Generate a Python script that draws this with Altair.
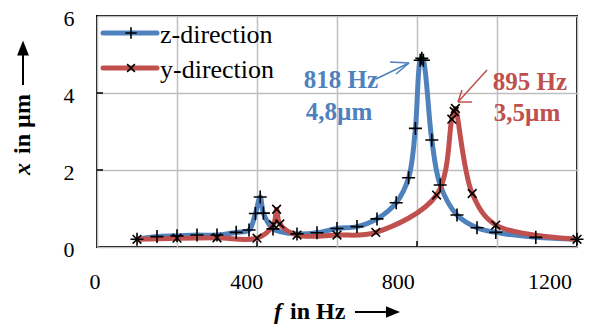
import altair as alt
import pandas as pd

# ---- data ----
z_freq = [100, 150, 200, 250, 300, 348, 380, 396, 408, 416, 440, 500, 550, 600, 650, 700, 748, 779, 796, 808, 812, 816, 837, 858, 900, 950, 997, 1097, 1200]
z_amp  = [0.20, 0.27, 0.29, 0.31, 0.31, 0.38, 0.44, 0.87, 1.30, 0.88, 0.47, 0.34, 0.37, 0.48, 0.53, 0.73, 1.15, 1.80, 3.08, 4.85, 4.90, 4.85, 2.78, 1.61, 0.83, 0.50, 0.38, 0.25, 0.20]

y_freq = [100, 200, 300, 400, 441, 449, 457, 500, 600, 697, 849, 887, 893, 896, 938, 997, 1200]
y_amp  = [0.20, 0.23, 0.24, 0.23, 0.58, 0.98, 0.60, 0.31, 0.31, 0.38, 1.35, 3.32, 3.52, 3.60, 1.39, 0.57, 0.20]

x_ticks = [0, 400, 800, 1200]
y_ticks = [0, 2, 4, 6]
x_grid = [0, 200, 400, 600, 800, 1000, 1200]
y_grid = [0, 1, 2, 3, 4, 5, 6]

BLUE = "#4F81BD"
RED = "#C0504D"
FONT = "Liberation Serif"
W, H = 480, 231

zdf = pd.DataFrame({"f": z_freq, "x": z_amp, "s": "z-direction"})
ydf = pd.DataFrame({"f": y_freq, "x": y_amp, "s": "y-direction"})

xs = alt.Scale(domain=[0, 1200], nice=False, zero=False)
ys = alt.Scale(domain=[0, 6], nice=False, zero=False)

xaxis = alt.Axis(values=x_grid, labels=False,
                 grid=True, gridColor="#bfbfbf", gridWidth=1.5, ticks=False, domain=False, title=None)
yaxis = alt.Axis(values=y_grid, labelExpr="datum.value % 2 == 0 ? '' + datum.value : ''",
                 grid=True, gridColor="#bfbfbf", gridWidth=1.5, ticks=False, domain=False,
                 labelFont=FONT, labelFontSize=22, labelColor="black", labelPadding=23, title=None,
                 labelOffset=2)

zline = alt.Chart(zdf).mark_line(color=BLUE, strokeWidth=5, interpolate="catmull-rom").encode(
    x=alt.X("f:Q", scale=xs, axis=xaxis), y=alt.Y("x:Q", scale=ys, axis=yaxis))
yline = alt.Chart(ydf).mark_line(color=RED, strokeWidth=5, interpolate="catmull-rom").encode(
    x=alt.X("f:Q", scale=xs), y=alt.Y("x:Q", scale=ys))

PLUS = "M-1,0L1,0M0,-1L0,1"
CROSS = "M-1,-1L1,1M-1,1L1,-1"
zpts = alt.Chart(zdf).mark_point(shape=PLUS, size=170, stroke="black", strokeWidth=1.6, filled=False, opacity=1).encode(
    x=alt.X("f:Q", scale=xs), y=alt.Y("x:Q", scale=ys))
ypts = alt.Chart(ydf).mark_point(shape=CROSS, size=75, stroke="black", strokeWidth=1.6, filled=False, opacity=1).encode(
    x=alt.X("f:Q", scale=xs), y=alt.Y("x:Q", scale=ys))

# x tick labels (reference places them slightly compressed to the left)
xlab = alt.Chart(pd.DataFrame({"v": x_ticks})).transform_calculate(
    lx="datum.v * 0.948 - 5", t="'' + datum.v").mark_text(
    font=FONT, fontSize=22, align="center", baseline="middle", color="black").encode(
    x=alt.X("lx:Q", scale=xs), y=alt.value(H + 35), text="t:N")

# inward ticks
xt = alt.Chart(pd.DataFrame({"f": [400, 800]})).mark_rule(color="black", strokeWidth=1.5).encode(
    x=alt.X("f:Q", scale=xs), y=alt.value(H), y2=alt.value(H - 6))
yt = alt.Chart(pd.DataFrame({"v": [2, 4]})).mark_rule(color="black", strokeWidth=1.5).encode(
    y=alt.Y("v:Q", scale=ys), x=alt.value(0), x2=alt.value(6))

# legend (drawn)
leg_lines = pd.DataFrame({"x": [6, 6], "x2": [60, 60], "y": [17, 52], "c": [BLUE, RED]})
legl = alt.Chart(leg_lines).mark_rule(strokeWidth=5, strokeCap="round").encode(
    x=alt.X("x:Q", scale=None), x2="x2:Q", y=alt.Y("y:Q", scale=None),
    color=alt.Color("c:N", scale=None))
legp1 = alt.Chart(pd.DataFrame({"x": [34], "y": [17]})).mark_point(shape=PLUS, size=130, stroke="black", strokeWidth=1.6, filled=False, opacity=1).encode(
    x=alt.X("x:Q", scale=None), y=alt.Y("y:Q", scale=None))
legp2 = alt.Chart(pd.DataFrame({"x": [34], "y": [52]})).mark_point(shape=CROSS, size=60, stroke="black", strokeWidth=1.6, filled=False, opacity=1).encode(
    x=alt.X("x:Q", scale=None), y=alt.Y("y:Q", scale=None))
legt = alt.Chart(pd.DataFrame({"x": [63, 63], "y": [19, 54], "t": ["z-direction", "y-direction"]})).mark_text(
    font=FONT, fontSize=26, align="left", baseline="middle", color="black").encode(
    x=alt.X("x:Q", scale=None), y=alt.Y("y:Q", scale=None), text="t:N")

# annotations
ann = pd.DataFrame({"x": [244, 242, 433, 430], "y": [64, 96, 66, 97],
                    "t": ["818 Hz", "4,8µm", "895 Hz", "3,5µm"], "c": [BLUE, BLUE, RED, RED]})
annt = alt.Chart(ann).mark_text(font=FONT, fontSize=25, fontWeight="bold", align="center", baseline="middle").encode(
    x=alt.X("x:Q", scale=None), y=alt.Y("y:Q", scale=None), text="t:N", color=alt.Color("c:N", scale=None))
arr = pd.DataFrame({
    "x":  [279, 312, 312, 390, 361, 361],
    "y":  [63, 47, 47, 54, 86, 86],
    "x2": [312, 293, 299, 361, 365, 375],
    "y2": [47, 46, 58, 86, 74, 86],
    "c": [BLUE, BLUE, BLUE, RED, RED, RED]})
arrows = alt.Chart(arr).mark_rule(strokeWidth=1.5).encode(
    x=alt.X("x:Q", scale=None), y=alt.Y("y:Q", scale=None), x2="x2:Q", y2="y2:Q",
    color=alt.Color("c:N", scale=None))

# axis titles (drawn)
xtitle_f = alt.Chart(pd.DataFrame({"x": [177], "y": [296], "t": ["f"]})).mark_text(
    font=FONT, fontSize=24, fontWeight="bold", fontStyle="italic", align="left", baseline="middle", color="black").encode(
    x=alt.X("x:Q", scale=None), y=alt.Y("y:Q", scale=None), text="t:N")
xtitle_r = alt.Chart(pd.DataFrame({"x": [193], "y": [296], "t": ["in Hz"]})).mark_text(
    font=FONT, fontSize=24, fontWeight="bold", align="left", baseline="middle", color="black").encode(
    x=alt.X("x:Q", scale=None), y=alt.Y("y:Q", scale=None), text="t:N")
xarr = alt.Chart(pd.DataFrame({"x": [258], "x2": [291], "y": [296]})).mark_rule(color="black", strokeWidth=2).encode(
    x=alt.X("x:Q", scale=None), x2="x2:Q", y=alt.Y("y:Q", scale=None))
xhead = alt.Chart(pd.DataFrame({"x": [296], "y": [296]})).mark_point(
    shape="M-1,-0.8L1,0L-1,0.8Z", size=200, filled=True, color="black", opacity=1).encode(
    x=alt.X("x:Q", scale=None), y=alt.Y("y:Q", scale=None))

ytitle_x = alt.Chart(pd.DataFrame({"x": [-74], "y": [153], "t": ["x"]})).mark_text(
    font=FONT, fontSize=24, fontWeight="bold", fontStyle="italic", align="center", baseline="middle", angle=270, color="black").encode(
    x=alt.X("x:Q", scale=None), y=alt.Y("y:Q", scale=None), text="t:N")
ytitle_r = alt.Chart(pd.DataFrame({"x": [-74], "y": [108], "t": ["in µm"]})).mark_text(
    font=FONT, fontSize=24, fontWeight="bold", align="center", baseline="middle", angle=270, color="black").encode(
    x=alt.X("x:Q", scale=None), y=alt.Y("y:Q", scale=None), text="t:N")
yarr = alt.Chart(pd.DataFrame({"x": [-74], "y": [69], "y2": [38]})).mark_rule(color="black", strokeWidth=2).encode(
    x=alt.X("x:Q", scale=None), y=alt.Y("y:Q", scale=None), y2="y2:Q")
yhead = alt.Chart(pd.DataFrame({"x": [-74], "y": [32]})).mark_point(
    shape="M-0.8,1L0,-1L0.8,1Z", size=220, filled=True, color="black", opacity=1).encode(
    x=alt.X("x:Q", scale=None), y=alt.Y("y:Q", scale=None))

chart = alt.layer(
    zline, yline, zpts, ypts, xlab, xt, yt, legl, legp1, legp2, legt, annt, arrows,
    xtitle_f, xtitle_r, xarr, xhead, ytitle_x, ytitle_r, yarr, yhead
).properties(
    width=W, height=H,
    autosize=alt.AutoSizeParams(type="none"),
    padding={"left": 97, "top": 16, "right": 36, "bottom": 79},
    background="white",
).configure_view(stroke="black", strokeWidth=2).configure_axis(labelFont=FONT)

chart.save("out.html", embed_options={"renderer": "svg", "actions": False})
